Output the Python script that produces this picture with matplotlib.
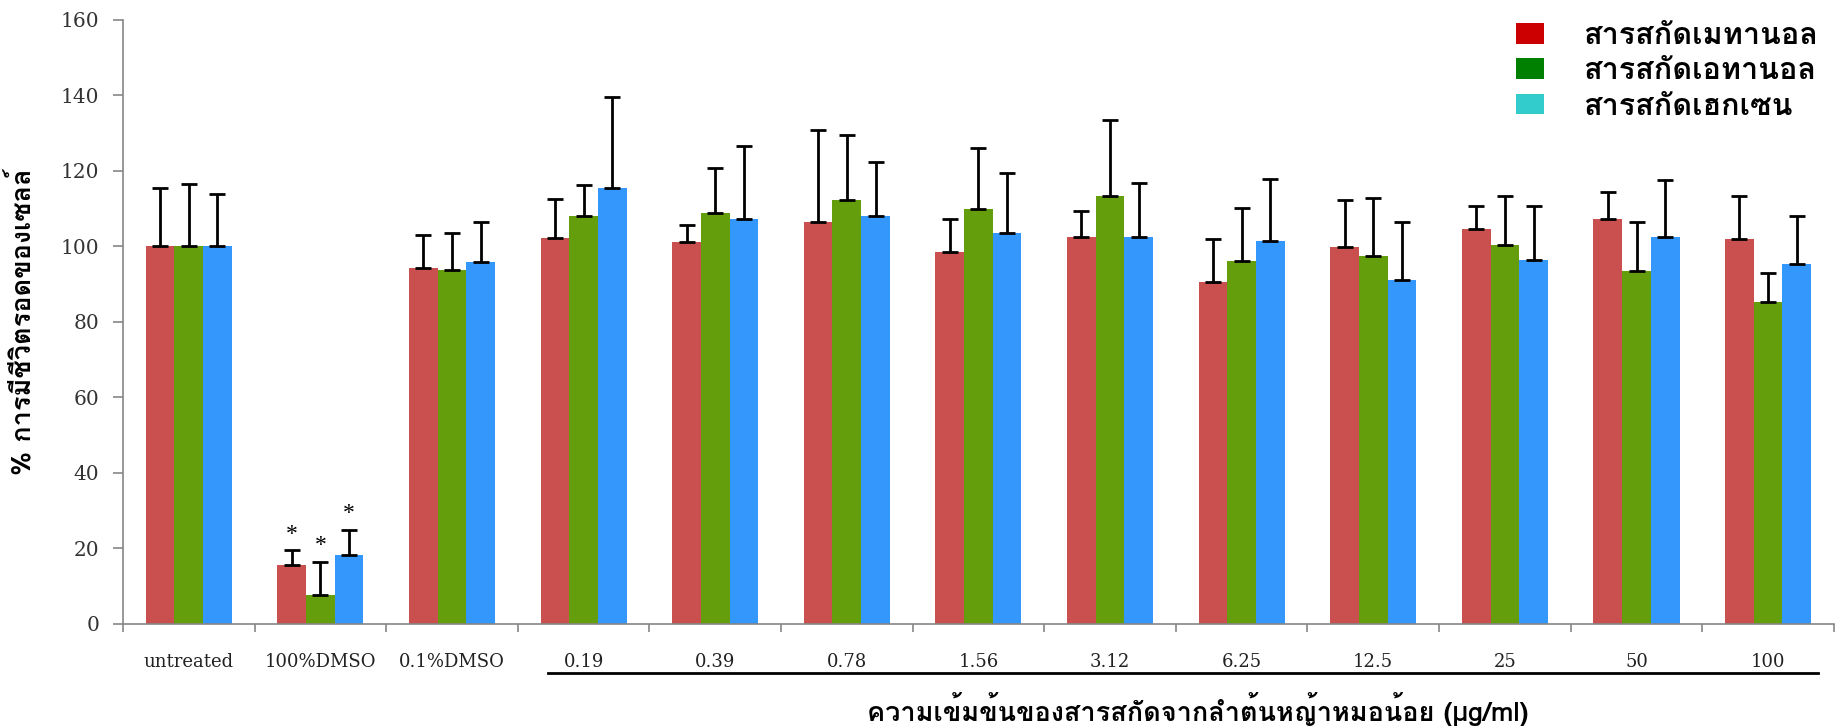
import numpy as np
import matplotlib
matplotlib.use("Agg")
import matplotlib.pyplot as plt
from matplotlib.patches import Patch

categories = ["untreated", "100%DMSO", "0.1%DMSO", "0.19", "0.39", "0.78", "1.56",
              "3.12", "6.25", "12.5", "25", "50", "100"]

# mean cell viability (%) and upper error (mean + SD) for each extract
methanol = [100, 15.6, 94.2, 102.2, 101.2, 106.4, 98.5, 102.5, 90.6, 99.9, 104.6, 107.3, 102.0]
methanol_top = [115.5, 19.7, 103.0, 112.5, 105.8, 130.8, 107.3, 109.4, 102.0, 112.3, 110.7, 114.3, 113.3]
ethanol = [100, 7.8, 93.8, 108.0, 109.0, 112.2, 110.0, 113.4, 96.2, 97.4, 100.5, 93.6, 85.4]
ethanol_top = [116.5, 16.5, 103.6, 116.2, 120.8, 129.6, 126.0, 133.5, 110.3, 112.8, 113.3, 106.5, 93.1]
hexane = [100, 18.3, 95.8, 115.4, 107.4, 108.0, 103.6, 102.5, 101.4, 91.2, 96.3, 102.5, 95.3]
hexane_top = [113.9, 25.0, 106.6, 139.6, 126.5, 122.3, 119.5, 116.9, 118.0, 106.5, 110.7, 117.5, 108.2]

series_names = ["สารสกัดเมทานอล", "สารสกัดเอทานอล", "สารสกัดเฮกเซน"]
bar_colors = ["#C9504F", "#659E0C", "#3397FB"]
legend_colors = ["#CC0000", "#008000", "#33CCCC"]

# significance stars over the 100% DMSO group
star_cat = 1
star_y = [26, 23, 31.4]

thai_font = ["Loma", "DejaVu Sans"]
plt.rcParams["font.family"] = ["DejaVu Serif"]

fig = plt.figure(figsize=(18.38, 7.26), dpi=100)
ax = fig.add_axes([0.0669, 0.1405, 0.9309, 0.832])

x = np.arange(len(categories))
w = 0.218
groups = [(methanol, methanol_top), (ethanol, ethanol_top), (hexane, hexane_top)]
for i, (vals, tops) in enumerate(groups):
    vals = np.array(vals)
    err = np.array(tops) - vals
    ax.bar(x + (i - 1) * w, vals, w, color=bar_colors[i], zorder=2)
    ax.errorbar(x + (i - 1) * w, vals, yerr=[np.zeros_like(err), err], fmt="none",
                ecolor="black", elinewidth=2, capsize=6, capthick=2, zorder=3)
    ax.annotate("*", (star_cat + (i - 1) * w, star_y[i]), xytext=(0, -6),
                textcoords="offset points", ha="center", va="center",
                fontsize=17, family="Liberation Serif")

ax.set_xlim(-0.5, len(categories) - 0.5)
ax.set_ylim(0, 160)
ax.set_yticks(range(0, 161, 20))
ax.tick_params(axis="y", labelsize=14.5, colors="#868686", labelcolor="#333333",
               length=7, width=1.2, pad=10)
ax.set_xticks(x)
ax.set_xticklabels(categories)
ax.tick_params(axis="x", which="major", length=0, labelsize=13, pad=21, labelcolor="#222222")
ax.set_xticks(np.arange(-0.5, len(categories), 1), minor=True)
ax.tick_params(axis="x", which="minor", length=6, color="#868686", width=1.2)
for s in ["top", "right"]:
    ax.spines[s].set_visible(False)
for s in ["left", "bottom"]:
    ax.spines[s].set_color("#868686")
    ax.spines[s].set_linewidth(1.2)

ax.set_ylabel("% การมีชีวิตรอดของเซลล์", fontsize=19.5, fontweight="bold",
              family=thai_font, va="center")
ax.yaxis.set_label_coords(-0.059, 0.5)

ax.set_xlabel("ความเข้มข้นของสารสกัดจากลำต้นหญ้าหมอน้อย (µg/ml)", fontsize=19.5,
              fontweight="bold", family=thai_font, va="center")
ax.xaxis.set_label_coords(0.628, -0.141)

# line under the concentration labels
ax.plot([2.73, 12.38], [-0.081, -0.081], color="black", lw=2,
        transform=ax.get_xaxis_transform(), clip_on=False)

handles = [Patch(facecolor=c, edgecolor="none") for c in legend_colors]
leg = fig.legend(handles, series_names, loc="upper left",
                 bbox_to_anchor=(1516 / 1838, 1 - 22 / 726), frameon=False,
                 prop={"family": thai_font, "weight": "bold", "size": 22},
                 handlelength=0.9, handleheight=0.66, handletextpad=1.3,
                 labelspacing=0.24, borderpad=0, borderaxespad=0)

fig.savefig("out.png")
